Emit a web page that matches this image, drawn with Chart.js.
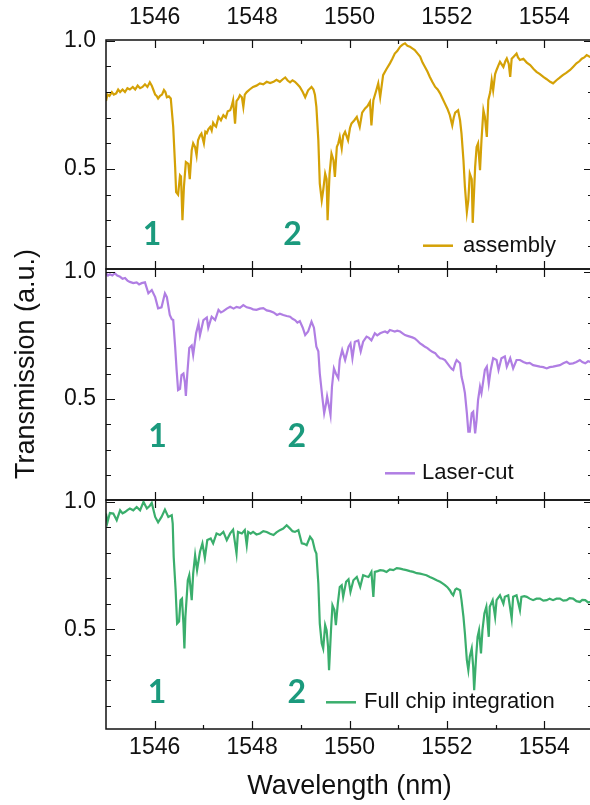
<!DOCTYPE html>
<html>
<head>
<meta charset="utf-8">
<script src="https://cdn.jsdelivr.net/npm/chart.js@4.4.1/dist/chart.umd.min.js"></script>
<style>
  html, body { margin: 0; padding: 0; background: #fff; }
  #wrap { position: relative; width: 590px; height: 805px; overflow: hidden; }
  #wrap canvas { position: absolute; left: 0; }
</style>
</head>
<body>
<div id="wrap">
  <canvas id="cTop" width="593" height="300" style="top:0px"></canvas>
  <canvas id="cMid" width="593" height="340" style="top:200px"></canvas>
  <canvas id="cBot" width="593" height="335" style="top:470px"></canvas>
</div>
<script>
// readings (wavelength nm, transmission a.u.)
const asmX = [1545.00,1545.03,1545.07,1545.12,1545.16,1545.21,1545.25,1545.29,1545.34,1545.39,1545.44,1545.49,1545.55,1545.60,1545.65,1545.70,1545.75,1545.80,1545.85,1545.90,1545.94,1545.97,
  1546.01,1546.04,1546.07,1546.11,1546.15,1546.19,1546.22,1546.25,1546.29,1546.33,1546.38,1546.42,1546.44,1546.48,1546.52,1546.54,1546.57,1546.60,1546.64,1546.69,1546.72,1546.76,1546.79,1546.83,1546.86,1546.89,1546.93,1546.96,
  1547.01,1547.04,1547.07,1547.10,1547.14,1547.17,1547.20,1547.23,1547.26,1547.31,1547.36,1547.41,1547.46,1547.50,1547.55,1547.58,1547.61,1547.65,1547.68,1547.72,1547.75,1547.79,1547.82,1547.85,1547.89,1547.95,
  1548.02,1548.09,1548.16,1548.23,1548.30,1548.37,1548.44,1548.50,1548.57,1548.63,1548.68,1548.73,1548.78,1548.83,1548.88,1548.93,1548.98,
  1549.04,1549.09,1549.15,1549.22,1549.26,1549.29,1549.32,1549.36,1549.39,1549.43,1549.46,1549.50,1549.53,1549.55,1549.59,1549.63,1549.67,1549.70,1549.74,1549.77,1549.80,1549.84,1549.87,1549.91,1549.97,
  1550.01,1550.04,1550.10,1550.15,1550.21,1550.26,1550.32,1550.37,1550.42,1550.45,1550.49,1550.54,1550.59,1550.63,1550.69,1550.76,1550.83,1550.88,1550.93,1550.98,
  1551.04,1551.09,1551.14,1551.19,1551.24,1551.29,1551.34,1551.40,1551.45,1551.50,1551.55,1551.60,1551.65,1551.70,1551.76,1551.81,1551.86,1551.91,1551.96,
  1552.01,1552.06,1552.11,1552.14,1552.17,1552.23,1552.27,1552.30,1552.34,1552.37,1552.41,1552.44,1552.47,1552.51,1552.53,1552.58,1552.61,1552.64,1552.68,1552.71,1552.75,1552.78,1552.82,1552.85,1552.89,1552.92,1552.95,1552.99,
  1553.02,1553.06,1553.09,1553.16,1553.20,1553.23,1553.27,1553.30,1553.33,1553.38,1553.43,1553.46,1553.50,1553.57,1553.64,1553.71,1553.78,1553.84,1553.91,1553.98,
  1554.05,1554.12,1554.18,1554.25,1554.31,1554.38,1554.45,1554.53,1554.60,1554.66,1554.72,1554.77,1554.82,1554.87,1554.94,1555.00];
const asmY = [.765,.79,.785,.80,.79,.795,.81,.80,.81,.80,.815,.81,.82,.81,.825,.815,.82,.83,.82,.838,.825,.81,
  .79,.785,.775,.785,.79,.808,.80,.78,.783,.775,.664,.508,.41,.40,.475,.47,.30,.43,.527,.52,.46,.573,.60,.585,.553,.612,.63,.638,
  .60,.645,.64,.655,.664,.65,.68,.67,.665,.703,.69,.71,.70,.725,.729,.745,.768,.677,.765,.775,.788,.78,.742,.79,.80,.81,
  .82,.825,.834,.83,.84,.835,.84,.848,.84,.85,.857,.845,.838,.846,.84,.83,.82,
  .80,.78,.807,.82,.81,.79,.742,.612,.443,.378,.417,.482,.46,.30,.48,.56,.535,.469,.586,.60,.625,.58,.63,.645,.612,
  .66,.677,.69,.703,.664,.72,.736,.745,.762,.67,.768,.80,.834,.78,.866,.89,.912,.93,.95,.96,
  .977,.985,.99,.98,.977,.97,.964,.95,.938,.915,.898,.88,.859,.84,.82,.81,.795,.775,.755,
  .735,.71,.67,.70,.72,.729,.69,.638,.534,.43,.332,.378,.482,.46,.29,.508,.586,.60,.495,.612,.729,.703,.625,.768,.80,.846,.807,.87,
  .886,.905,.918,.898,.92,.931,.91,.859,.93,.94,.95,.935,.925,.93,.915,.905,.89,.879,.87,.859,
  .85,.84,.834,.846,.855,.866,.875,.886,.90,.912,.92,.93,.935,.944,.937,.945];

const lcX = [1545.00,1545.04,1545.08,1545.13,1545.18,1545.23,1545.29,1545.34,1545.39,1545.44,1545.49,1545.56,1545.63,1545.68,1545.73,1545.80,1545.87,1545.94,
  1546.01,1546.07,1546.14,1546.21,1546.25,1546.31,1546.35,1546.38,1546.42,1546.45,1546.48,1546.52,1546.55,1546.59,1546.62,1546.64,1546.67,1546.71,1546.76,1546.79,1546.85,1546.90,1546.93,
  1547.00,1547.07,1547.10,1547.17,1547.24,1547.31,1547.36,1547.41,1547.48,1547.55,1547.62,1547.68,1547.75,1547.82,1547.89,1547.96,
  1548.02,1548.09,1548.16,1548.23,1548.30,1548.37,1548.44,1548.51,1548.57,1548.64,1548.71,1548.78,1548.83,1548.88,1548.93,1548.98,
  1549.04,1549.09,1549.15,1549.22,1549.27,1549.32,1549.36,1549.39,1549.44,1549.48,1549.52,1549.54,1549.58,1549.61,1549.64,1549.68,1549.72,1549.77,1549.80,1549.85,1549.91,1549.98,
  1550.02,1550.06,1550.11,1550.18,1550.23,1550.28,1550.35,1550.40,1550.45,1550.52,1550.57,1550.63,1550.68,1550.73,1550.78,1550.83,1550.88,1550.93,1550.98,
  1551.04,1551.09,1551.14,1551.19,1551.24,1551.29,1551.34,1551.40,1551.45,1551.50,1551.55,1551.60,1551.65,1551.70,1551.76,1551.81,1551.86,1551.91,1551.96,
  1552.01,1552.06,1552.10,1552.13,1552.17,1552.20,1552.27,1552.30,1552.34,1552.37,1552.41,1552.44,1552.47,1552.51,1552.54,1552.58,1552.61,1552.64,1552.68,1552.71,1552.75,1552.78,1552.82,1552.86,1552.90,1552.95,
  1553.02,1553.06,1553.12,1553.19,1553.23,1553.30,1553.36,1553.43,1553.50,1553.57,1553.64,1553.70,1553.77,1553.84,1553.91,1553.98,
  1554.05,1554.11,1554.18,1554.25,1554.32,1554.39,1554.46,1554.52,1554.59,1554.66,1554.73,1554.78,1554.84,1554.90,1554.94,1555.00];
const lcY = [.994,.985,.99,.985,.994,.985,.98,.972,.975,.965,.96,.955,.958,.95,.955,.958,.915,.928,
  .90,.856,.86,.915,.90,.83,.813,.81,.705,.614,.535,.54,.594,.60,.565,.512,.60,.70,.71,.673,.758,.797,.75,
  .81,.82,.78,.823,.81,.85,.84,.845,.855,.862,.855,.862,.858,.869,.86,.857,
  .852,.85,.855,.857,.848,.845,.84,.83,.835,.83,.826,.823,.815,.81,.80,.806,
  .78,.751,.765,.804,.78,.705,.687,.60,.51,.444,.483,.51,.47,.437,.548,.62,.60,.581,.653,.692,.653,.705,
  .718,.66,.725,.73,.687,.725,.745,.74,.73,.758,.75,.758,.762,.765,.76,.771,.768,.765,.768,
  .765,.758,.751,.748,.745,.742,.738,.728,.718,.712,.705,.70,.692,.685,.68,.668,.66,.658,.653,
  .64,.627,.618,.614,.64,.653,.64,.588,.555,.523,.444,.372,.372,.444,.45,.365,.418,.496,.548,.523,.575,.614,.627,.56,.614,.66,
  .653,.614,.66,.667,.627,.66,.62,.653,.653,.645,.64,.642,.633,.63,.627,.625,
  .62,.625,.627,.63,.633,.64,.646,.638,.64,.645,.653,.645,.64,.648,.646,.648];

const fcX = [1545.00,1545.03,1545.08,1545.15,1545.22,1545.29,1545.34,1545.39,1545.44,1545.49,1545.56,1545.63,1545.70,1545.77,1545.84,1545.90,1545.94,
  1546.01,1546.07,1546.14,1546.21,1546.28,1546.35,1546.37,1546.39,1546.43,1546.46,1546.50,1546.53,1546.56,1546.59,1546.61,1546.63,1546.68,1546.71,1546.76,1546.79,1546.83,1546.87,1546.93,1546.98,
  1547.03,1547.08,1547.15,1547.20,1547.27,1547.34,1547.41,1547.48,1547.55,1547.61,1547.68,1547.71,1547.79,1547.85,1547.89,1547.92,1547.97,
  1548.02,1548.09,1548.16,1548.23,1548.30,1548.37,1548.44,1548.50,1548.57,1548.64,1548.71,1548.78,1548.83,1548.88,1548.95,
  1549.02,1549.07,1549.12,1549.19,1549.24,1549.29,1549.32,1549.36,1549.39,1549.43,1549.46,1549.50,1549.53,1549.56,1549.58,1549.62,1549.65,1549.69,1549.72,1549.76,1549.80,1549.84,1549.87,1549.93,1549.98,
  1550.02,1550.08,1550.15,1550.22,1550.28,1550.34,1550.39,1550.45,1550.49,1550.52,1550.58,1550.63,1550.70,1550.76,1550.83,1550.90,1550.97,
  1551.04,1551.10,1551.17,1551.24,1551.31,1551.38,1551.45,1551.52,1551.58,1551.65,1551.72,1551.79,1551.86,1551.91,1551.96,
  1552.01,1552.06,1552.10,1552.13,1552.17,1552.20,1552.27,1552.30,1552.34,1552.37,1552.41,1552.44,1552.47,1552.51,1552.54,1552.56,1552.60,1552.63,1552.66,1552.70,1552.73,1552.77,1552.81,1552.86,1552.88,1552.94,1552.99,
  1553.02,1553.09,1553.16,1553.19,1553.26,1553.33,1553.36,1553.43,1553.50,1553.53,1553.59,1553.64,1553.70,1553.77,1553.84,1553.91,1553.98,
  1554.05,1554.11,1554.18,1554.25,1554.32,1554.39,1554.46,1554.52,1554.59,1554.66,1554.73,1554.78,1554.84,1554.90,1554.94,1555.00];
const fcY = [.954,.92,.956,.954,.928,.967,.955,.96,.968,.974,.967,.98,.967,1.0,.974,.985,.996,
  .941,.92,.941,.97,.941,.948,.915,.784,.653,.522,.53,.614,.62,.522,.424,.548,.692,.712,.614,.718,.79,.732,.804,.837,
  .78,.85,.856,.837,.876,.87,.882,.85,.876,.891,.797,.882,.876,.889,.83,.882,.875,
  .882,.872,.876,.885,.882,.875,.87,.88,.889,.895,.908,.895,.885,.882,.889,
  .837,.835,.83,.863,.85,.81,.797,.68,.522,.444,.424,.516,.496,.43,.339,.496,.594,.575,.516,.60,.666,.673,.627,.686,.696,
  .647,.692,.705,.666,.712,.708,.705,.725,.627,.725,.728,.732,.73,.725,.735,.732,.74,
  .738,.735,.732,.728,.725,.72,.718,.715,.712,.705,.699,.692,.686,.68,.673,
  .665,.653,.64,.633,.655,.66,.653,.614,.548,.483,.378,.339,.392,.424,.352,.26,.392,.47,.496,.405,.496,.562,.588,.47,.588,.614,.548,
  .614,.633,.60,.627,.633,.542,.627,.633,.575,.627,.63,.627,.62,.614,.62,.62,.612,
  .614,.62,.614,.62,.62,.612,.614,.622,.62,.61,.607,.615,.614,.605,.607,.61];

const xMajor = [1546, 1548, 1550, 1552, 1554];
const xMinor = [1547, 1549, 1551, 1553];
const yMajor = [0.5, 1.0];
const yMinor = [0.2, 0.3, 0.4, 0.6, 0.7, 0.8, 0.9];
const dipNames = ['1', '2'];

const FONT = '"Liberation Sans", Arial, Helvetica, sans-serif';
const INK = '#111';

// frame, inward ticks, dip numbers, legend and the shared y title
const panelDecor = {
  id: 'panelDecor',
  afterDatasetsDraw(chart, args, o) {
    const { ctx, chartArea: a } = chart;
    const sx = chart.scales.x, sy = chart.scales.y;
    ctx.save();
    ctx.strokeStyle = INK;
    ctx.lineWidth = 1.5;
    ctx.strokeRect(a.left, a.top, a.right - a.left, a.bottom - a.top);

    ctx.lineWidth = 1.2;
    ctx.beginPath();
    const xt = (vals, len) => vals.forEach(v => {
      const p = Math.round(sx.getPixelForValue(v)) + 0.5;
      ctx.moveTo(p, a.top); ctx.lineTo(p, a.top + len);
      ctx.moveTo(p, a.bottom); ctx.lineTo(p, a.bottom - len);
    });
    const yt = (vals, len) => vals.forEach(v => {
      const p = Math.round(sy.getPixelForValue(v)) + 0.5;
      ctx.moveTo(a.left, p); ctx.lineTo(a.left + len, p);
      ctx.moveTo(a.right, p); ctx.lineTo(a.right - len, p);
    });
    xt(xMajor, 8); xt(xMinor, 4);
    yt(yMajor, 9); yt(yMinor, 5);
    ctx.stroke();

    // dip numbers
    ctx.fillStyle = '#1b9a7d';
    ctx.font = 'bold 32px Lato, "Open Sans", sans-serif';
    ctx.textAlign = 'center';
    ctx.textBaseline = 'middle';
    o.dips.forEach((d, i) => {
      ctx.fillText(dipNames[i], sx.getPixelForValue(d[0]), sy.getPixelForValue(d[1]));
    });

    // legend
    const ds = chart.data.datasets[0];
    const lx = a.right - o.legend.right;
    const ly = a.bottom - o.legend.bottom;
    ctx.strokeStyle = ds.borderColor;
    ctx.lineWidth = 2.5;
    ctx.beginPath();
    ctx.moveTo(lx, ly); ctx.lineTo(lx + 30, ly);
    ctx.stroke();
    ctx.fillStyle = INK;
    ctx.font = '22px ' + FONT;
    ctx.textAlign = 'left';
    ctx.fillText(ds.label, lx + 30 + o.legend.gap, ly);

    if (o.yTitle) {
      ctx.save();
      ctx.translate(o.yTitle.x, a.top + o.yTitle.dy);
      ctx.rotate(-Math.PI / 2);
      ctx.font = '27px ' + FONT;
      ctx.textAlign = 'center';
      ctx.fillText(o.yTitle.text, 0, 0);
      ctx.restore();
    }
    ctx.restore();
  }
};

function makePanel(id, p) {
  const xScale = {
    type: 'linear', min: 1545, max: 1555,
    position: p.xPos, display: p.xShow,
    afterFit: s => { s.height = p.xHeight; },
    afterBuildTicks: s => { s.ticks = xMajor.map(v => ({ value: v })); },
    grid: { display: false, drawTicks: false },
    border: { display: false },
    ticks: { padding: p.xPad, color: INK, font: { family: FONT, size: 23 },
             maxRotation: 0, autoSkip: false, callback: v => String(v) },
    title: p.xTitle
      ? { display: true, text: p.xTitle, color: INK, font: { family: FONT, size: 27 }, padding: { top: 0, bottom: 2 } }
      : { display: false }
  };
  return new Chart(document.getElementById(id), {
    type: 'line',
    data: {
      datasets: [{
        label: p.label,
        data: p.xs.map((x, i) => ({ x, y: p.ys[i] })),
        borderColor: p.color,
        borderWidth: 2.2,
        pointRadius: 0,
        tension: 0
      }]
    },
    options: {
      responsive: false,
      animation: false,
      devicePixelRatio: 1,
      layout: { padding: p.padding },
      plugins: {
        legend: { display: false },
        tooltip: { enabled: false },
        panelDecor: { dips: p.dips, legend: p.legend, yTitle: p.yTitle }
      },
      scales: {
        x: xScale,
        y: {
          type: 'linear', min: p.yMin, max: p.yMax,
          afterFit: s => { s.width = 106; },
          afterBuildTicks: s => { s.ticks = yMajor.map(v => ({ value: v })); },
          grid: { display: false, drawTicks: false },
          border: { display: false },
          ticks: { padding: 10, color: INK, font: { family: FONT, size: 23 }, callback: v => v.toFixed(1) }
        }
      }
    },
    plugins: [panelDecor]
  });
}

makePanel('cTop', {
  label: 'assembly', xs: asmX, ys: asmY, color: '#d4a106',
  yMin: 0.11, yMax: 1.003,
  padding: { top: 0, bottom: 31, left: 0, right: 0 },
  xPos: 'top', xShow: true, xHeight: 40, xPad: 9,
  dips: [[1545.945, 0.245], [1548.83, 0.245]],
  legend: { right: 170, bottom: 23.3, gap: 10 }
});

makePanel('cMid', {
  label: 'Laser-cut', xs: lcX, ys: lcY, color: '#b07ee3',
  yMin: 0.103, yMax: 1.0106,
  padding: { top: 69, bottom: 40, left: 0, right: 0 },
  xPos: 'bottom', xShow: false, xHeight: 0, xPad: 0,
  dips: [[1546.06, 0.352], [1548.92, 0.352]],
  legend: { right: 208, bottom: 26.7, gap: 7 },
  yTitle: { text: 'Transmission (a.u.)', x: 27, dy: 95 }
});

makePanel('cBot', {
  label: 'Full chip integration', xs: fcX, ys: fcY, color: '#3aae6c',
  yMin: 0.108, yMax: 1.0074,
  padding: { top: 30, bottom: 0, left: 0, right: 0 },
  xPos: 'bottom', xShow: true, xHeight: 76, xPad: 5,
  dips: [[1546.05, 0.249], [1548.92, 0.249]],
  legend: { right: 267, bottom: 26.7, gap: 8 },
  xTitle: 'Wavelength (nm)'
});
</script>
</body>
</html>
